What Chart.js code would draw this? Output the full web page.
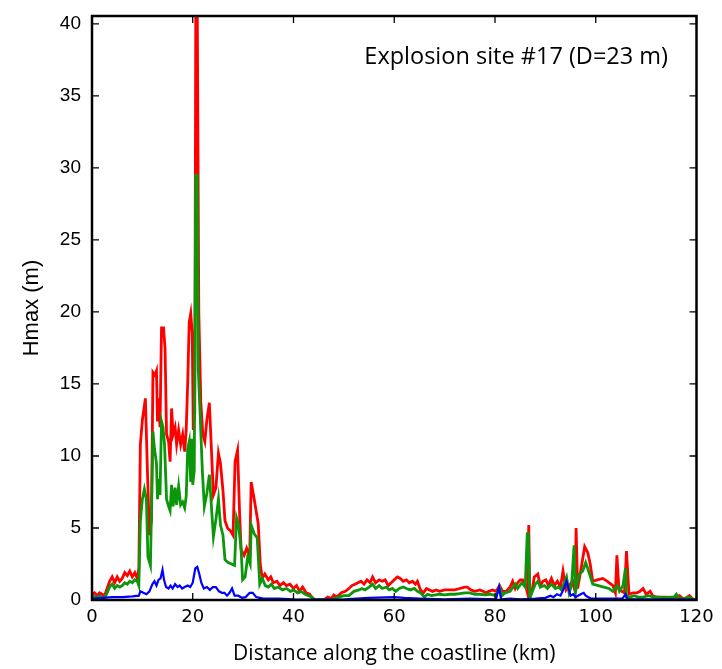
<!DOCTYPE html>
<html>
<head>
<meta charset="utf-8">
<script src="https://cdn.jsdelivr.net/npm/chart.js@4/dist/chart.umd.min.js"></script>
<style>
  html, body { margin: 0; padding: 0; background: #fff; }
  #wrap { width: 722px; height: 669px; }
</style>
</head>
<body>
<div id="wrap"><canvas id="hmaxChart" width="722" height="669"></canvas></div>
<script>
// Hmax along the coastline, explosion site #17
const xTicks = [0, 20, 40, 60, 80, 100, 120];
const yTicks = [0, 5, 10, 15, 20, 25, 30, 35, 40];

const redKm = [0,0.5,1,1.5,2,2.5,3,3.5,4,4.5,5,5.5,6,6.5,7,7.5,8,8.5,9,9.3,9.6,10,10.6,11,11.4,11.8,12.1,12.5,12.8,13,13.3,13.5,13.8,14.2,14.5,14.8,15.2,15.5,15.8,16.1,16.5,16.8,17.2,17.6,18,18.4,18.7,19,19.3,19.6,19.9,20.1,20.4,20.6,20.9,21.2,21.6,22,22.4,22.8,23.3,23.7,24.1,24.6,25.1,25.5,26,26.4,26.9,27.5,28,28.4,28.9,29.3,29.6,30.2,30.7,31.3,31.6,32.2,33,33.4,33.8,34.3,35,35.5,36,36.7,37.3,38,38.6,39.3,40,40.6,41.2,41.8,42.5,43.2,44,45,46,46.8,47.5,48,48.6,49.5,50.3,51,51.6,52.2,52.8,53.4,54,54.6,55.2,55.7,56.3,57,57.6,58.2,58.8,59.4,60,60.6,61.2,61.8,62.4,63,63.6,64.2,64.6,65.2,65.8,66.4,67,67.6,68.3,69,70,71,72,73,74,74.5,75.2,76,77,77.6,78.2,78.8,79.5,80.2,80.9,81.5,82.2,83,83.5,84,84.5,85,85.5,86,86.5,86.7,86.9,87.3,87.8,88.5,89,89.5,90.1,90.6,91.2,91.8,92.4,93,93.5,94.1,94.7,95.4,95.9,96.1,96.4,97,97.8,98.4,98.9,99.4,100.3,101.4,102.3,103.4,103.9,104.2,104.6,105.2,105.7,106.1,106.6,107.4,108.2,108.8,109.4,110,110.8,111.3,112,113,114,115,116,116.6,117.3,118,118.6,119.3,120];
const redH = [0.4,0.5,0.3,0.5,0.4,0.3,0.8,1.3,1.6,1.2,1.6,1.3,1.5,1.9,1.7,2.0,1.6,1.9,1.5,2.2,10.8,12.5,14.0,9,4.5,5.5,15.8,15.6,15.9,12.4,14,12,18.9,18.9,17.5,11.5,11.0,9.6,13.3,11.5,12.0,10.8,11.8,10.8,11.5,10.3,11.8,15.1,19.3,19.9,18.5,11.8,13,41,41,20,13.7,11.5,11.0,12.5,13.7,10.5,7.3,7.8,10.2,9.5,7.6,5.5,5.0,4.8,4.5,9.6,10.4,6,3.5,3.1,3.6,3.0,8.2,7.0,5.3,2.5,1.5,1.8,1.4,1.6,1.2,1.3,1.0,1.2,1.0,1.1,0.8,1.0,0.6,0.9,0.5,0.4,0,0,0,0.2,0.1,0.35,0.2,0.5,0.6,0.8,1.0,1.1,1.2,1.3,1.1,1.4,1.2,1.6,1.2,1.4,1.3,1.4,1.0,1.2,1.4,1.6,1.5,1.3,1.4,1.2,1.3,1.1,1.3,0.7,0.5,0.8,0.7,0.6,0.7,0.6,0.7,0.7,0.7,0.8,0.9,0.9,0.7,0.6,0.7,0.6,0.5,0.6,0.7,0.6,1.0,0.6,0.6,0.9,1.3,0.8,1.2,1.4,1.4,1.1,0.4,5.2,0.3,0.5,1.6,1.8,1.0,1.3,1.4,1.0,1.5,1.0,1.3,0.9,2.0,0.7,1.0,1.3,0.6,5.0,0.8,2.0,3.7,3.3,2.5,1.3,1.4,1.5,1.3,1.0,0.5,3.1,0.8,0.6,0.5,3.4,0.4,0.5,0.5,0.6,0.8,0.4,0.6,0.3,0.2,0.2,0.2,0.15,0.2,0.3,0.1,0.15,0.3,0.05,0.05];

const greenKm = [0,0.5,1,1.5,2,2.5,3,3.5,4,4.5,5,5.5,6,6.5,7,7.5,8,8.5,9,9.3,9.6,10,10.4,10.8,11.1,11.6,12.1,12.4,12.8,13,13.3,13.5,13.8,14.1,14.4,14.8,15.2,15.5,15.8,16.1,16.5,16.8,17.2,17.6,18,18.4,18.7,19,19.3,19.6,19.8,20,20.3,20.6,20.9,21.1,21.5,21.9,22.3,22.8,23.3,23.8,24.1,24.6,25.1,25.5,26,26.4,27,27.7,28.3,28.7,29.1,29.6,29.9,30.4,30.9,31.4,31.6,32.2,32.8,33.3,33.8,34.4,35,35.6,36.2,37,37.8,38.6,39.4,40,40.8,41.5,42.3,43,43.7,44.3,47,48,49,50,51,52,53,53.6,54.2,55,55.7,56.3,57,57.6,58.4,59,59.6,60.3,61,61.8,62.4,63.2,64,64.6,65.2,66,66.6,67.4,68.2,69,70,71,72,73,74,75,76,77,78,79,80.2,80.9,81.4,82,83,84,84.5,85.3,86,86.4,86.6,86.9,87.4,88,88.5,89,89.8,90.4,91.2,92,92.6,93.2,94.2,94.7,95.2,95.7,96,96.7,97.4,98,98.4,99.4,100.5,101.6,102.6,103.4,104.3,104.7,105.4,105.9,106.1,106.8,107.6,108.5,109.4,110.5,111.5,112.5,113.5,114.5,115.5,116,116.5,117.5,118.5,119.3,120];
const greenH = [0.2,0.25,0.1,0.3,0.2,0.15,0.5,0.9,1.1,0.8,1.0,0.9,1.0,1.2,1.1,1.3,1.2,1.4,1.3,1.0,5.5,7.0,7.7,7.0,3.0,2.4,11.7,10.5,9.5,7.0,8.4,7.3,12.4,12.0,10.8,7.0,6.5,6.2,8.0,6.5,7.8,6.6,7.9,6.6,6.8,6.4,7.2,10.5,11.0,8.2,11.2,8.0,9.0,29.5,29.5,16,12.6,9.0,6.5,7.4,8.7,6.0,4.4,5.6,7.0,5.2,4.5,2.8,2.6,2.5,2.4,5.7,5.2,3.5,1.4,1.6,3.0,2.5,5.2,4.6,4.3,1.1,1.5,1.0,0.9,1.1,0.8,0.9,0.7,0.8,0.6,0.7,0.5,0.6,0.4,0.3,0.2,0,0,0.1,0.2,0.3,0.3,0.6,0.7,0.8,0.7,0.9,1.1,0.8,1.0,0.8,0.9,0.7,0.8,0.6,0.8,0.9,0.8,0.7,0.8,0.6,0.5,0.2,0.4,0.3,0.35,0.4,0.35,0.4,0.4,0.45,0.5,0.5,0.4,0.4,0.35,0.4,0.3,0.9,0.3,0.5,0.6,1.1,0.8,1.2,0.9,4.6,4.6,0.1,0.6,1.1,1.3,0.9,1.0,0.8,1.1,0.8,0.9,0.7,1.6,0.5,1.0,3.8,0.6,1.8,2.0,2.6,2.2,1.1,1.0,0.9,0.8,0.6,1.0,0.6,1.0,2.2,0.2,0.2,0.3,0.2,0.2,0.3,0.2,0.2,0.15,0.2,0.2,0.4,0.1,0.1,0.2,0.05,0.05];

const blueKm = [0,2,4,6,8,9.3,9.6,10.2,10.8,11.4,12,12.4,12.8,13.2,13.6,14,14.3,14.7,15.2,15.6,16,16.5,17,17.4,17.9,18.4,19,19.5,20,20.5,20.9,21.3,21.7,22.2,22.8,23.4,24,24.6,25.2,25.8,26.3,26.8,27.3,27.8,28.3,29,29.8,30.5,31.3,31.9,32.6,33.3,34,35,37,40,45,50,55,60,62,65,70,75,80.2,80.8,81.2,83,85,88,90,91,91.6,92.3,93,93.8,94.2,94.6,95,95.5,96,97,97.6,98,99,101,103,105.3,105.9,106.3,110,115,120];
const blueH = [0.1,0.15,0.2,0.2,0.25,0.3,0.6,0.5,0.4,0.6,1.1,1.3,1.0,1.4,1.5,2.1,1.4,0.9,0.8,1.0,0.8,1.1,0.9,1.0,0.8,0.9,1.0,0.9,1.2,2.2,2.3,1.8,1.2,0.8,0.9,0.7,0.9,0.9,0.6,0.5,0.5,0.3,0.5,0.8,0.3,0.3,0.15,0.2,0.5,0.5,0.2,0.15,0.1,0.1,0.1,0.05,0.02,0.05,0.15,0.2,0.15,0.1,0.05,0.1,0.05,0.9,0.05,0.1,0.05,0.1,0.15,0.3,0.2,0.4,0.3,0.9,1.3,0.8,0.3,0.4,0.2,0.4,0.5,0.3,0.1,0.1,0.1,0.1,0.4,0.05,0.05,0.05,0.02];

const SANS = "'Liberation Sans', Arial, sans-serif";
const toPts = (xs, ys) => xs.map((x, i) => ({ x, y: ys[i] }));

// frame, inward ticks on all four sides and the site label
const framePlugin = {
  id: 'frame',
  afterDatasetsDraw(chart) {
    const { ctx, chartArea: a, scales: { x, y } } = chart;
    ctx.save();
    ctx.strokeStyle = '#000';
    ctx.lineWidth = 1.3;
    ctx.beginPath();
    xTicks.forEach(v => {
      const px = x.getPixelForValue(v);
      ctx.moveTo(px, a.bottom); ctx.lineTo(px, a.bottom - 7);
      ctx.moveTo(px, a.top); ctx.lineTo(px, a.top + 7);
    });
    yTicks.forEach(v => {
      const py = y.getPixelForValue(v);
      ctx.moveTo(a.left, py); ctx.lineTo(a.left + 7, py);
      ctx.moveTo(a.right, py); ctx.lineTo(a.right - 7, py);
    });
    ctx.stroke();
    ctx.lineWidth = 2.5;
    ctx.strokeRect(a.left, a.top, a.right - a.left, a.bottom - a.top);
    ctx.fillStyle = '#000';
    ctx.font = "23.5px 'Open Sans', sans-serif";
    ctx.textAlign = 'right';
    ctx.textBaseline = 'alphabetic';
    ctx.fillText('Explosion site #17 (D=23 m)', 668, 64);
    ctx.restore();
  }
};

new Chart(document.getElementById('hmaxChart'), {
  type: 'line',
  data: {
    datasets: [
      { label: 'blue',  data: toPts(blueKm, blueH),   borderColor: '#0000ff', borderWidth: 2.2, order: 1 },
      { label: 'green', data: toPts(greenKm, greenH), borderColor: '#0c960c', borderWidth: 2.8, order: 2 },
      { label: 'red',   data: toPts(redKm, redH),     borderColor: '#ff0000', borderWidth: 2.8, order: 3 }
    ].map(d => ({ ...d, pointRadius: 0, tension: 0, fill: false }))
  },
  options: {
    responsive: false,
    animation: false,
    layout: { padding: { left: 0, top: 16, right: 25.5, bottom: 0 } },
    plugins: { legend: { display: false }, tooltip: { enabled: false } },
    scales: {
      x: {
        type: 'linear', min: 0, max: 120,
        afterFit: s => { s.height = 69; s.paddingLeft = 0; s.paddingRight = 0; },
        afterBuildTicks: s => { s.ticks = xTicks.map(v => ({ value: v })); },
        grid: { display: false, drawTicks: false },
        border: { display: false },
        ticks: { padding: 7, color: '#000', font: { family: "'DejaVu Sans', sans-serif", size: 18 } },
        title: { display: true, text: 'Distance along the coastline (km)', color: '#000',
                 font: { family: "'Open Sans', sans-serif", size: 21 },
                 padding: { top: 0, bottom: 2 } }
      },
      y: {
        min: 0, max: 40.55,
        afterFit: s => { s.width = 92; s.paddingTop = 0; s.paddingBottom = 0; },
        afterBuildTicks: s => { s.ticks = yTicks.map(v => ({ value: v })); },
        grid: { display: false, drawTicks: false },
        border: { display: false },
        ticks: { padding: 11, color: '#000', font: { family: SANS, size: 19 } },
        title: { display: true, text: 'Hmax (m)', color: '#000',
                 font: { family: SANS, size: 22 }, padding: { top: 19, bottom: 0 } }
      }
    }
  },
  plugins: [framePlugin]
});
</script>
</body>
</html>
